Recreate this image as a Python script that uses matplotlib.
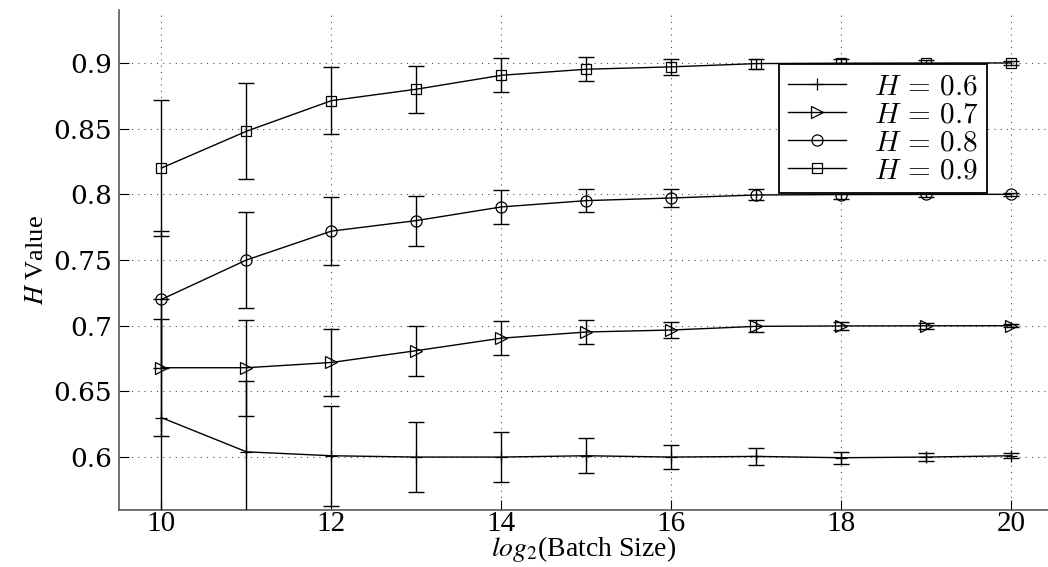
import matplotlib
matplotlib.use('Agg')
import matplotlib.pyplot as plt
from matplotlib.font_manager import FontProperties

# log2 der Batch-Groesse
log2_batch = [10, 11, 12, 13, 14, 15, 16, 17, 18, 19, 20]

# geschaetzte H-Werte je Serie
h06 = [0.630, 0.604, 0.601, 0.600, 0.600, 0.601, 0.600, 0.6005, 0.5995, 0.600, 0.601]
h07 = [0.668, 0.668, 0.672, 0.681, 0.6905, 0.6952, 0.6967, 0.6995, 0.6998, 0.6999, 0.700]
h08 = [0.720, 0.750, 0.772, 0.780, 0.7904, 0.7952, 0.7972, 0.7995, 0.7998, 0.7999, 0.800]
h09 = [0.820, 0.848, 0.8713, 0.880, 0.8906, 0.8952, 0.897, 0.8995, 0.8998, 0.8999, 0.900]

# Fehlerbalken (halbe Breite)
err06 = [0.075, 0.054, 0.038, 0.0267, 0.019, 0.0135, 0.0094, 0.0066, 0.0045, 0.003, 0.002]
err07 = [0.052, 0.0365, 0.0256, 0.019, 0.013, 0.009, 0.0062, 0.0045, 0.003, 0.0023, 0.0013]
err08 = [0.052, 0.0365, 0.0256, 0.019, 0.013, 0.009, 0.0065, 0.0042, 0.003, 0.002, 0.0013]
err09 = [0.052, 0.0365, 0.0256, 0.018, 0.013, 0.009, 0.006, 0.0038, 0.003, 0.002, 0.0013]

labels = [r'$H\,=\,0.6$', r'$H\,=\,0.7$', r'$H\,=\,0.8$', r'$H\,=\,0.9$']
marker = ['+', '>', 'o', 's']
groesse = [9, 8, 8, 7]

fig = plt.figure(figsize=(10.48, 5.67), dpi=100)
ax = fig.add_axes([0.1135, 0.1012, 0.8865, 0.8805])

handles = []
for y, e, m, ms, lab in zip([h06, h07, h08, h09], [err06, err07, err08, err09],
                            marker, groesse, labels):
    ax.errorbar(log2_batch, y, yerr=e, fmt='none', ecolor='black',
                elinewidth=1.0, capsize=6, capthick=1.0, zorder=3)
    ln, = ax.plot(log2_batch, y, color='black', lw=1.0, marker=m, markersize=ms,
                  markerfacecolor='none', markeredgecolor='black',
                  markeredgewidth=0.9, label=lab, zorder=4)
    handles.append(ln)

ax.set_xlim(9.5, 20.43)
ax.set_ylim(0.56, 0.94)
ax.set_xticks([10, 12, 14, 16, 18, 20])
ax.set_yticks([0.6, 0.65, 0.7, 0.75, 0.8, 0.85, 0.9])
ax.set_yticklabels(['0.6', '0.65', '0.7', '0.75', '0.8', '0.85', '0.9'],
                   family='DejaVu Serif', fontsize=19)
ax.set_xticklabels(['10', '12', '14', '16', '18', '20'],
                   family='Liberation Serif', fontsize=21)
ax.tick_params(direction='in', length=7, width=0.8)
ax.tick_params(axis='y', pad=5)
ax.tick_params(axis='x', pad=1)

ax.grid(True, color='0.25', linestyle=(0, (1, 5)), linewidth=0.75)
ax.set_axisbelow(True)

for s in ['top', 'right']:
    ax.spines[s].set_visible(False)
for s in ['left', 'bottom']:
    ax.spines[s].set_linewidth(1.2)
    ax.spines[s].set_color('0.35')

ax.set_xlabel('$log_2$(Batch Size)', family='Liberation Serif', fontsize=20,
              math_fontfamily='stix', labelpad=-2)
ax.set_ylabel('$H$ Value', family='Liberation Serif', fontsize=19,
              math_fontfamily='stix', labelpad=4)

leg_font = FontProperties(size=21, math_fontfamily='cm')
leg = ax.legend(handles=handles, loc='upper right', bbox_to_anchor=(0.9343, 0.893),
                borderaxespad=0, prop=leg_font, numpoints=1, fancybox=False,
                framealpha=1, edgecolor='black', handlelength=2.0,
                handletextpad=0.95, labelspacing=0.0, borderpad=0.3)
leg.get_frame().set_linewidth(1.3)

fig.savefig('out.png', dpi=100)
